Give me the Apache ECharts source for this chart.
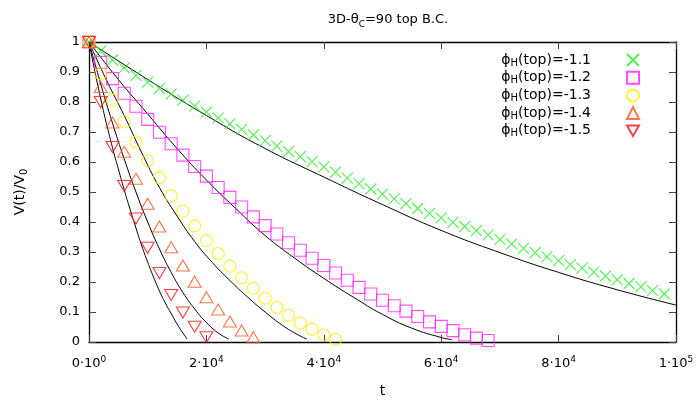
<!DOCTYPE html>
<html>
<head>
<meta charset="utf-8">
<script src="https://cdn.jsdelivr.net/npm/echarts@6/dist/echarts.min.js"></script>
<style>
  html, body { margin: 0; padding: 0; background: #fff; }
  #chart { width: 699px; height: 403px; }
</style>
</head>
<body>
<div id="chart"></div>
<script>
// Sample times shared by all measured series (each uses a leading slice)
const sampleTimes = [0, 2000, 4000, 6000, 8000, 10000, 12000, 14000, 16000, 18000,
  20000, 22000, 24000, 26000, 28000, 30000, 32000, 34000, 36000, 38000,
  40000, 42000, 44000, 46000, 48000, 50000, 52000, 54000, 56000, 58000,
  60000, 62000, 64000, 66000, 68000, 70000, 72000, 74000, 76000, 78000,
  80000, 82000, 84000, 86000, 88000, 90000, 92000, 94000, 96000, 98000];

// Measured V(t)/V0
const vPhi11 = [1, 0.970, 0.940, 0.914, 0.889, 0.866, 0.845, 0.826, 0.806, 0.786,
  0.766, 0.747, 0.727, 0.709, 0.690, 0.671, 0.653, 0.635, 0.618, 0.601,
  0.584, 0.566, 0.546, 0.528, 0.510, 0.493, 0.477, 0.461, 0.445, 0.429,
  0.414, 0.399, 0.385, 0.371, 0.357, 0.342, 0.327, 0.312, 0.298, 0.284,
  0.271, 0.258, 0.246, 0.233, 0.220, 0.208, 0.195, 0.184, 0.171, 0.160];
const vPhi12 = [1, 0.932, 0.878, 0.829, 0.786, 0.742, 0.699, 0.661, 0.623, 0.585,
  0.553, 0.515, 0.482, 0.450, 0.417, 0.388, 0.360, 0.331, 0.306, 0.279,
  0.255, 0.230, 0.206, 0.182, 0.160, 0.139, 0.121, 0.103, 0.085, 0.067,
  0.052, 0.038, 0.024, 0.013, 0.005];
const vPhi13 = [1, 0.894, 0.807, 0.734, 0.667, 0.604, 0.548, 0.488, 0.436, 0.387,
  0.338, 0.295, 0.253, 0.214, 0.179, 0.146, 0.115, 0.089, 0.063, 0.043,
  0.024, 0.009];
const vPhi14 = [1, 0.850, 0.732, 0.634, 0.544, 0.461, 0.385, 0.316, 0.255, 0.201,
  0.149, 0.108, 0.068, 0.038, 0.016];
const vPhi15 = [1, 0.800, 0.650, 0.520, 0.412, 0.314, 0.230, 0.157, 0.098, 0.051,
  0.016];

// Fitted curves: [t, V(t)/V0]
const fit11 = [[0, 1], [10000, 0.875], [20000, 0.755], [30000, 0.645], [40000, 0.55],
  [50000, 0.458], [60000, 0.372], [70000, 0.298], [80000, 0.232], [90000, 0.174], [100000, 0.123]];
const fit12 = [[0, 1], [5000, 0.875], [10000, 0.76], [15000, 0.645], [20000, 0.54],
  [25000, 0.445], [30000, 0.355], [35000, 0.28], [40000, 0.212], [45000, 0.15],
  [50000, 0.092], [55000, 0.046], [60000, 0.015], [61800, 0.008]];
const fit13 = [[0, 1], [3000, 0.872], [6000, 0.755], [9000, 0.63], [12000, 0.515],
  [15000, 0.42], [18000, 0.335], [21000, 0.265], [24000, 0.205], [27000, 0.15],
  [30000, 0.10], [33000, 0.055], [35500, 0.025], [37100, 0.01]];
const fit14 = [[0, 1], [2000, 0.86], [4000, 0.73], [6000, 0.61], [8000, 0.50],
  [10000, 0.40], [12000, 0.31], [14000, 0.232], [16000, 0.165], [18000, 0.11],
  [20000, 0.065], [22000, 0.03], [23800, 0.01]];
const fit15 = [[0, 1], [2000, 0.81], [4000, 0.648], [5000, 0.577], [6000, 0.507],
  [7000, 0.442], [8000, 0.38], [9000, 0.32], [10000, 0.266], [11000, 0.216],
  [12000, 0.17], [13000, 0.13], [14000, 0.095], [15000, 0.06], [16000, 0.03], [16700, 0.01]];

const xTickText = {0: ['0', '0'], 20000: ['2', '4'], 40000: ['4', '4'], 60000: ['6', '4'],
  80000: ['8', '4'], 100000: ['1', '5']};
const legendNames = ['-1.1', '-1.2', '-1.3', '-1.4', '-1.5'];

const FONT = 'DejaVu Sans';
const pairs = (vals) => vals.map((v, i) => [sampleTimes[i], v]);

const crossPath = 'path://M0,0L10,10M10,0L0,10';
const downTriPath = 'path://M0,0L10,0L5,8.7Z';
const seriesStyle = [
  { name: legendNames[0], vals: vPhi11, symbol: crossPath, size: 11, color: '#22ee22' },
  { name: legendNames[1], vals: vPhi12, symbol: 'rect', size: 12, color: '#ff22ff' },
  { name: legendNames[2], vals: vPhi13, symbol: 'circle', size: 12, color: '#ffee00' },
  { name: legendNames[3], vals: vPhi14, symbol: 'triangle', size: [13, 11], color: '#ff5522' },
  { name: legendNames[4], vals: vPhi15, symbol: downTriPath, size: [13, 11], color: '#ff1111' }
];

const series = [];
[fit11, fit12, fit13, fit14, fit15].forEach((f) => {
  series.push({
    type: 'line', data: f, showSymbol: false, smooth: 0.5,
    lineStyle: { color: '#000', width: 1 }, z: 3, silent: true, clip: false
  });
});
seriesStyle.forEach((s) => {
  series.push({
    name: s.name, type: 'scatter', data: pairs(s.vals), symbol: s.symbol,
    symbolSize: s.size, clip: false, z: 4,
    itemStyle: { color: 'rgba(0,0,0,0)', borderColor: s.color, borderWidth: 1.1 }
  });
});

const chart = echarts.init(document.getElementById('chart'), null, { renderer: 'canvas' });
const grid = { left: 89, top: 42, width: 587, height: 308 };

const tickStyle = { show: true, inside: true, length: 7, lineStyle: { color: '#444', width: 1 } };

chart.setOption({
  animation: false,
  backgroundColor: '#fff',
  textStyle: { fontFamily: FONT },
  title: {
    text: '{n|3D-θ}{s|C}{n|=90 top B.C.}',
    left: 383, top: 6, textAlign: 'center',
    textStyle: {
      fontWeight: 'normal',
      rich: {
        n: { fontFamily: FONT, fontSize: 13, fontWeight: 'normal', color: '#000', lineHeight: 18 },
        s: { fontFamily: FONT, fontSize: 9, fontWeight: 'normal', color: '#000', verticalAlign: 'bottom', lineHeight: 12 }
      }
    }
  },
  legend: {
    orient: 'vertical', right: 54, top: 48, align: 'right',
    itemWidth: 12, itemHeight: 12, itemGap: 2.7,
    data: legendNames,
    formatter: (n) => '{n|ϕ}{s|H}{n|(top)=' + n + '}{g|}',
    textStyle: {
      rich: {
        n: { fontFamily: FONT, fontSize: 14, color: '#000', lineHeight: 16 },
        s: { fontFamily: FONT, fontSize: 10, color: '#000', verticalAlign: 'bottom', lineHeight: 12 },
        g: { width: 31 }
      }
    }
  },
  grid: grid,
  xAxis: [{
    type: 'value', min: 0, max: 100000, interval: 20000,
    axisLine: { show: true, onZero: false, lineStyle: { color: '#000', width: 1.3 } },
    axisTick: tickStyle,
    splitLine: { show: false },
    axisLabel: {
      margin: 13,
      formatter: (v) => {
        const t = xTickText[v];
        return t ? '{n|' + t[0] + '·10}{p|' + t[1] + '}' : '';
      },
      rich: {
        n: { fontFamily: FONT, fontSize: 13, color: '#000', lineHeight: 18 },
        p: { fontFamily: FONT, fontSize: 9, color: '#000', verticalAlign: 'top', lineHeight: 12 }
      }
    },
    name: 't', nameLocation: 'middle', nameGap: 42,
    nameTextStyle: { fontFamily: FONT, fontSize: 14, color: '#000' }
  }, {
    type: 'value', min: 0, max: 100000, interval: 20000, position: 'top',
    axisLine: { show: true, onZero: false, lineStyle: { color: '#000', width: 1.3 } },
    axisTick: tickStyle, axisLabel: { show: false }, splitLine: { show: false }
  }],
  yAxis: [{
    type: 'value', min: 0, max: 1, interval: 0.1,
    axisLine: { show: true, onZero: false, lineStyle: { color: '#000', width: 1.3 } },
    axisTick: tickStyle,
    splitLine: { show: false },
    axisLabel: {
      margin: 9, fontFamily: FONT, fontSize: 13, color: '#000',
      formatter: (v) => (Math.round(v * 10) / 10).toString()
    },
    name: '{n|V(t)/V}{s|0}', nameLocation: 'middle', nameGap: 60,
    nameTextStyle: {
      rich: {
        n: { fontFamily: FONT, fontSize: 14, color: '#000', lineHeight: 18 },
        s: { fontFamily: FONT, fontSize: 10, color: '#000', verticalAlign: 'bottom', lineHeight: 12 }
      }
    }
  }, {
    type: 'value', min: 0, max: 1, interval: 0.1, position: 'right',
    axisLine: { show: true, onZero: false, lineStyle: { color: '#000', width: 1.3 } },
    axisTick: tickStyle, axisLabel: { show: false }, splitLine: { show: false }
  }],
  series: series
});
</script>
</body>
</html>
